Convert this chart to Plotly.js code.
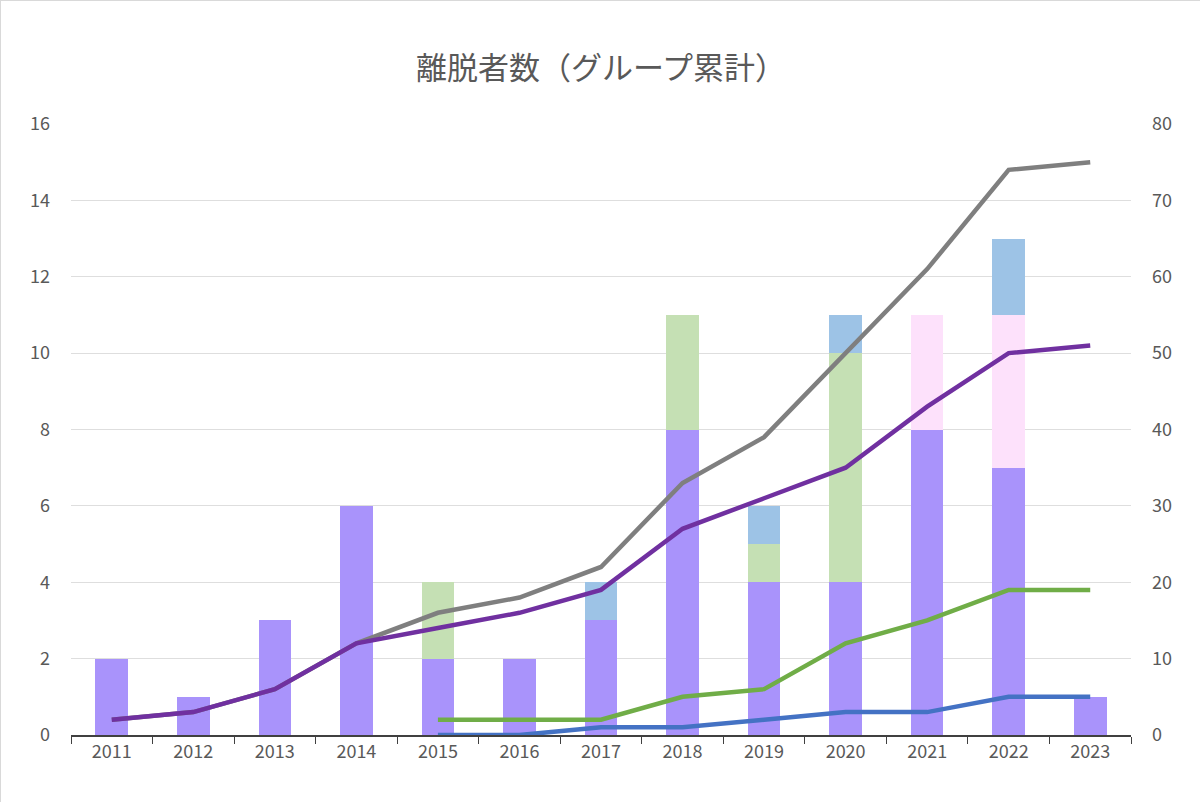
<!DOCTYPE html>
<html>
<head>
<meta charset="utf-8">
<script src="https://cdn.plot.ly/plotly-3.0.1.min.js"></script>
<style>
  html, body { margin: 0; padding: 0; background: #fff; }
  #chart { width: 1200px; height: 802px; box-sizing: border-box; border: 1px solid #d9d9d9; }
</style>
</head>
<body>
<div id="chart"></div>
<script>
var YEARS = ["2011","2012","2013","2014","2015","2016","2017","2018","2019","2020","2021","2022","2023"];

// stacked bars (left axis)
var BAR_PURPLE = [2, 1, 3, 6, 2, 2, 3, 8, 4, 4, 8, 7, 1];
var BAR_GREEN  = [0, 0, 0, 0, 2, 0, 0, 3, 1, 6, 0, 0, 0];
var BAR_PINK   = [0, 0, 0, 0, 0, 0, 0, 0, 0, 0, 3, 4, 0];
var BAR_BLUE   = [0, 0, 0, 0, 0, 0, 1, 0, 1, 1, 0, 2, 0];

// cumulative lines (right axis)
var LINE_GRAY   = [2, 3, 6, 12, 16, 18, 22, 33, 39, 50, 61, 74, 75];
var LINE_PURPLE = [2, 3, 6, 12, 14, 16, 19, 27, 31, 35, 43, 50, 51];
var LINE_GREEN  = [null, null, null, null, 2, 2, 2, 5, 6, 12, 15, 19, 19];
var LINE_BLUE   = [null, null, null, null, 0, 0, 1, 1, 2, 3, 3, 5, 5];

function bar(y, color) {
  return { x: YEARS, y: y, type: "bar", marker: { color: color }, hoverinfo: "y" };
}
function line(y, color) {
  return { x: YEARS, y: y, type: "scatter", mode: "lines", yaxis: "y2",
           line: { color: color, width: 4.5 }, connectgaps: false };
}

var traces = [
  bar(BAR_PURPLE, "#a993fb"),
  bar(BAR_GREEN, "#c5e0b4"),
  bar(BAR_PINK, "#fde1fb"),
  bar(BAR_BLUE, "#9dc3e6"),
  line(LINE_GRAY, "#7f7f7f"),
  line(LINE_BLUE, "#4472c4"),
  line(LINE_GREEN, "#70ad47"),
  line(LINE_PURPLE, "#7030a0")
];

var tickFont = { family: "Noto Sans CJK JP, Noto Sans, sans-serif", size: 18, color: "#595959" };

var layout = {
  width: 1200, height: 802,
  margin: { t: 123, r: 70, b: 68, l: 70 },
  barmode: "stack",
  bargap: 0.6,
  showlegend: false,
  paper_bgcolor: "#fff",
  plot_bgcolor: "#fff",
  title: { text: "離脱者数（グループ累計）", x: 0.5, y: 0.93,
           font: { family: "Noto Sans CJK JP, sans-serif", size: 31, color: "#595959" } },
  xaxis: { type: "category", tickfont: tickFont, showline: true, linecolor: "#404040", linewidth: 1.5,
           ticks: "outside", tickson: "boundaries", ticklen: 7, tickcolor: "#404040",
           showgrid: false, fixedrange: true },
  yaxis: { range: [0, 16], dtick: 2, tickfont: tickFont, gridcolor: "#dedede",
           zeroline: false, ticklabelstandoff: 20 },
  yaxis2: { range: [0, 80], dtick: 10, overlaying: "y", side: "right",
            tickfont: tickFont, showgrid: false, zeroline: false, ticklabelstandoff: 20 }
};

Plotly.newPlot("chart", traces, layout, { displayModeBar: false });
</script>
</body>
</html>
